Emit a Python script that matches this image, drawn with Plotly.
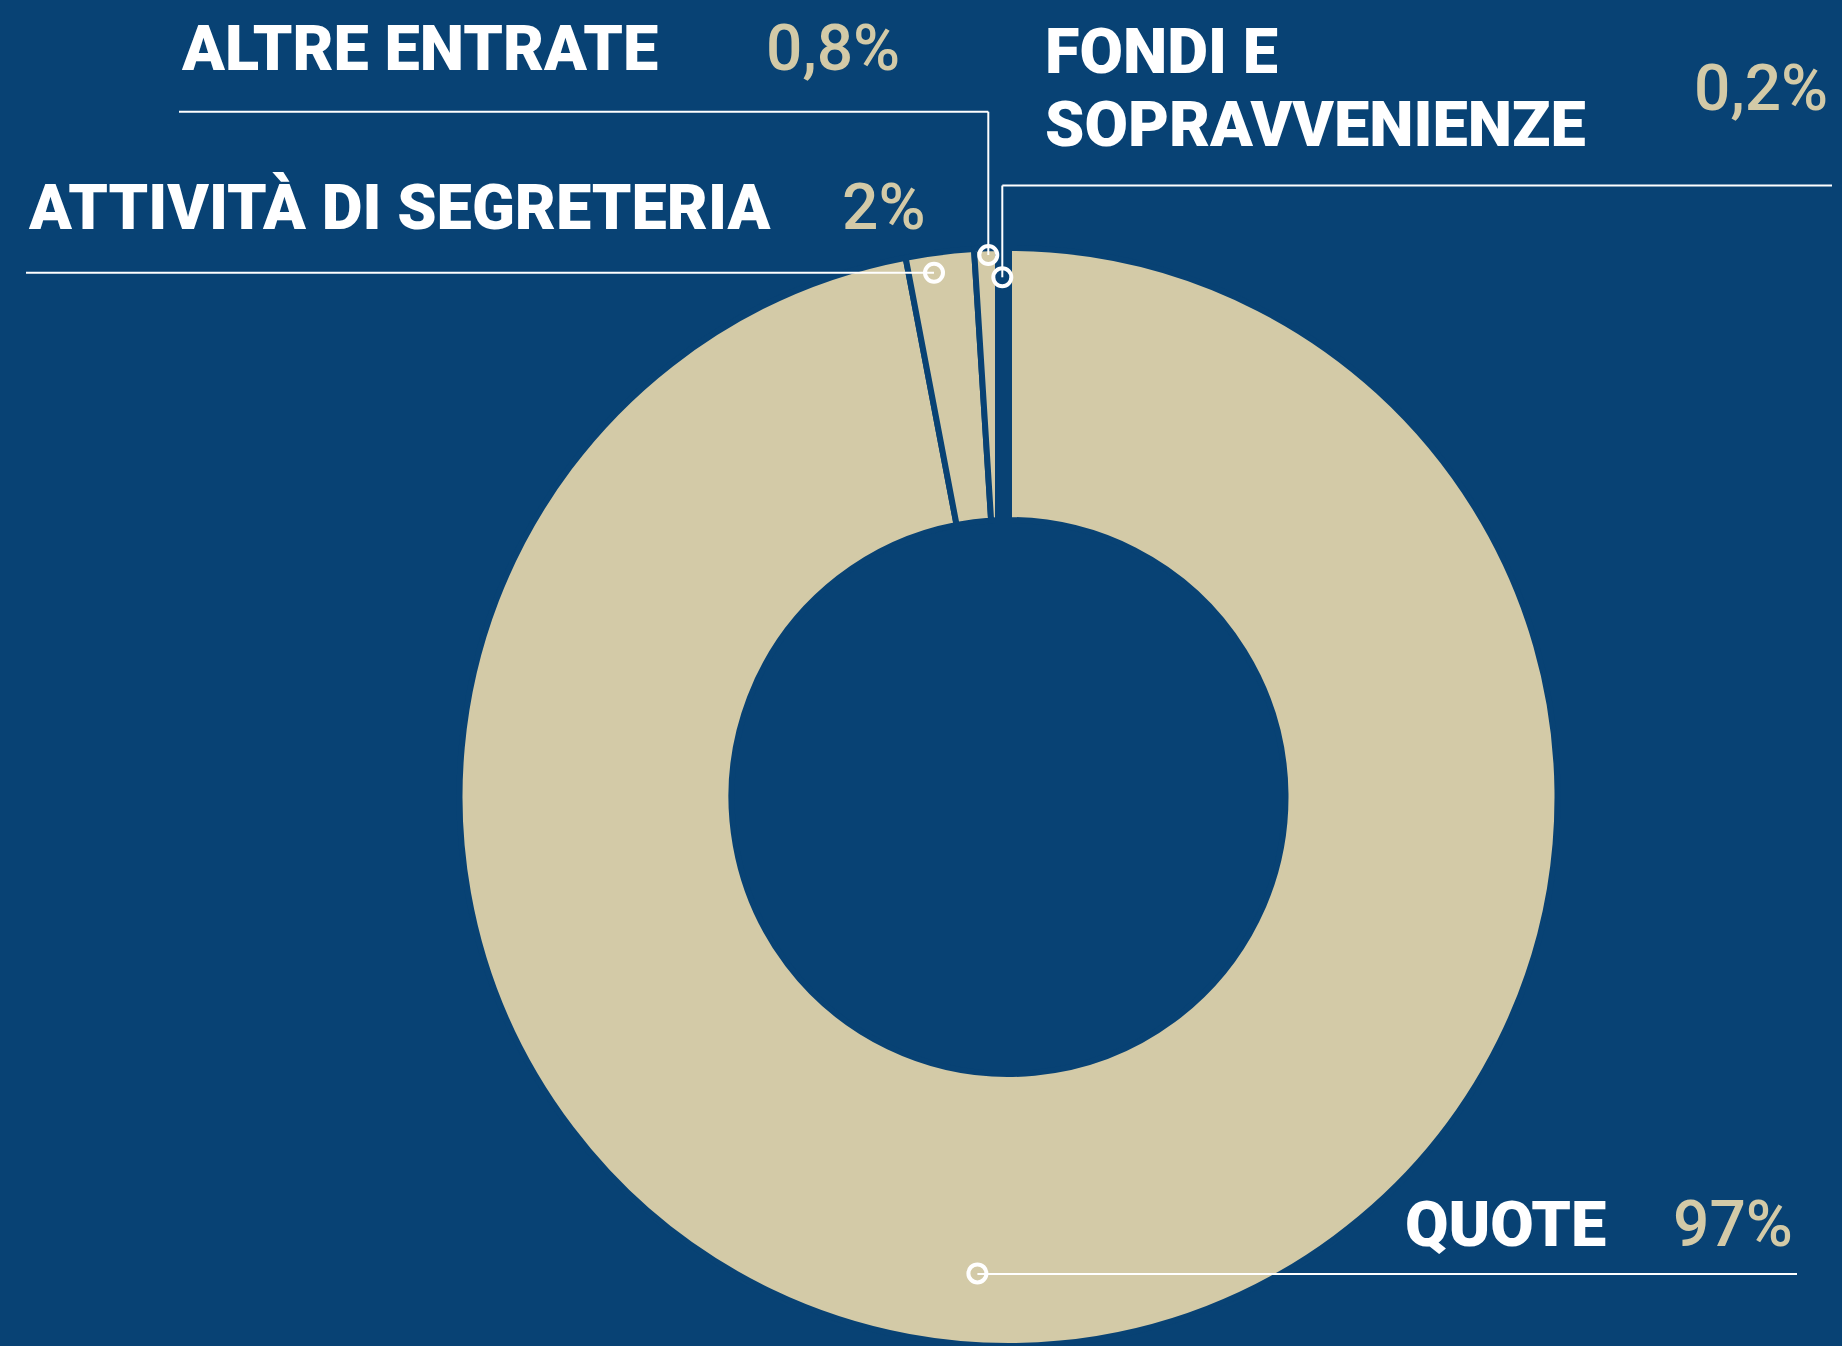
import plotly.graph_objects as go

# data
categories = ["QUOTE", "ATTIVITÀ DI SEGRETERIA", "ALTRE ENTRATE", "FONDI E|SOPRAVVENIENZE"]
values = [97, 2, 0.8, 0.2]
pct_labels = ["97%", "2%", "0,8%", "0,2%"]

W, H = 1842, 1346
BG = "#084274"
BEIGE = "#D3CAA7"
LABEL_FONT = "Roboto, 'Open Sans', sans-serif"

# donut geometry (pixels)
CX, R = 1008.5, 549
GAP = 6

# callout layout per category (pixels): name left/x, pct right, text rows y, line path, ring
callouts = {
    "QUOTE": dict(name_x=1403, pct_x=1795, rows=[1224], pct_y=1224,
                  path=[(977.4, 1274), (1797, 1274)], ring=(977.4, 1273.4)),
    "ATTIVITÀ DI SEGRETERIA": dict(name_x=26, pct_x=928, rows=[207], pct_y=207,
                                   path=[(26, 272.7), (934, 272.7)], ring=(934, 272.7)),
    "ALTRE ENTRATE": dict(name_x=179, pct_x=902, rows=[49], pct_y=49,
                          path=[(179, 111.7), (988.3, 111.7), (988.3, 255)], ring=(988.3, 255)),
    "FONDI E|SOPRAVVENIENZE": dict(name_x=1043, pct_x=1830, rows=[52, 124], pct_y=89,
                                   path=[(1832, 185.5), (1002.3, 185.5), (1002.3, 277.3)], ring=(1002.3, 277.3)),
}


def px(x):
    return x / W


def py(y):
    return 1 - y / H


fig = go.Figure()

fig.add_trace(go.Pie(
    values=values,
    labels=[c.replace("|", " ") for c in categories],
    sort=False,
    direction="clockwise",
    rotation=0,
    hole=(280 - GAP / 2) / R,
    textinfo="none",
    hoverinfo="label+percent",
    marker=dict(colors=[BEIGE] * len(values), line=dict(color=BG, width=GAP)),
    domain=dict(x=[px(CX - R), px(CX + R)], y=[0, (2 * R) / H]),
    showlegend=False,
))

shapes = []
# dark strip over the tiny top slices
shapes.append(dict(type="rect", xref="paper", yref="paper", layer="above",
                   x0=px(995), x1=px(1012), y0=py(240), y1=py(560),
                   fillcolor=BG, line=dict(width=0)))

annotations = []
for cat, pct in zip(categories, pct_labels):
    c = callouts[cat]
    for row_text, row_y in zip(cat.split("|"), c["rows"]):
        annotations.append(dict(
            text=row_text, x=px(c["name_x"]), y=py(row_y), xref="paper", yref="paper",
            xanchor="left", yanchor="middle", showarrow=False,
            font=dict(family=LABEL_FONT, size=63, color="white", weight=900),
        ))
    annotations.append(dict(
        text=pct, x=px(c["pct_x"]), y=py(c["pct_y"]), xref="paper", yref="paper",
        xanchor="right", yanchor="middle", showarrow=False,
        font=dict(family=LABEL_FONT, size=64, color=BEIGE, weight=500),
    ))
    pts = c["path"]
    for (x0, y0), (x1, y1) in zip(pts[:-1], pts[1:]):
        shapes.append(dict(type="line", xref="paper", yref="paper", layer="above",
                           x0=px(x0), y0=py(y0), x1=px(x1), y1=py(y1),
                           line=dict(color="white", width=2)))

for cat in categories:
    rx, ry = callouts[cat]["ring"]
    shapes.append(dict(type="circle", xref="paper", yref="paper", layer="above",
                       x0=px(rx - 9), x1=px(rx + 9), y0=py(ry + 9), y1=py(ry - 9),
                       fillcolor="rgba(0,0,0,0)", line=dict(color="white", width=4)))

fig.update_layout(
    width=W,
    height=H,
    margin=dict(l=0, r=0, t=0, b=0),
    paper_bgcolor=BG,
    plot_bgcolor=BG,
    shapes=shapes,
    annotations=annotations,
)

fig.write_html("out.html", config={"displayModeBar": False},
               post_script="document.body.style.margin='0';")
